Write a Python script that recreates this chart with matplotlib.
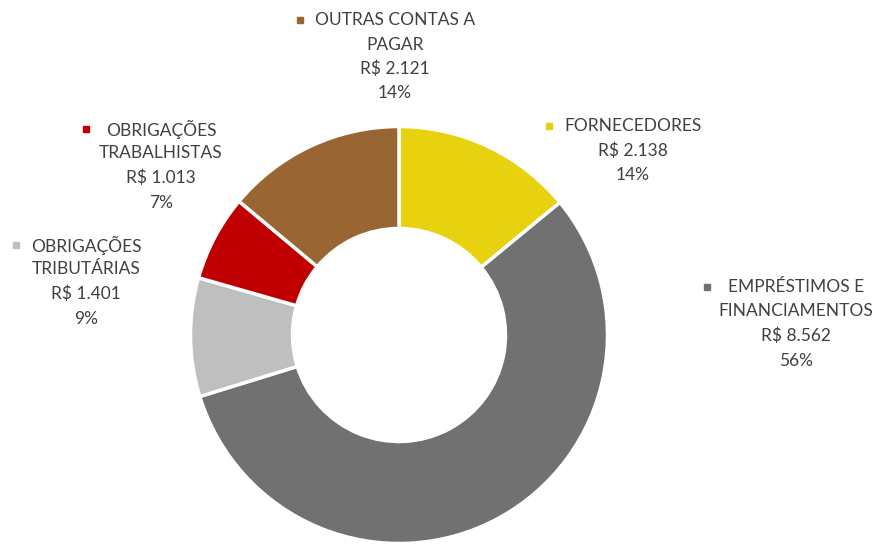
import matplotlib.pyplot as plt

# slices clockwise from 12 o'clock
names = [["FORNECEDORES"],
         ["EMPRÉSTIMOS E", "FINANCIAMENTOS"],
         ["OBRIGAÇÕES", "TRIBUTÁRIAS"],
         ["OBRIGAÇÕES", "TRABALHISTAS"],
         ["OUTRAS CONTAS A", "PAGAR"]]
values = [2138, 8562, 1401, 1013, 2121]
colors = ["#E8D10E", "#717171", "#BFBFBF", "#C00000", "#996633"]

# label layout in pixels: (text centre x, first line y, marker x)
label_pos = [(633, 126, 549), (796, 287, 707), (86, 245, 16),
             (161, 129, 86), (395, 20, 300)]

W, H = 876, 544
fig = plt.figure(figsize=(W / 100, H / 100), dpi=100)
ax = fig.add_axes([0, 0, 1, 1])

ax.pie(values, colors=colors, startangle=90, counterclock=False,
       center=(399, H - 335), radius=208.5, frame=True,
       wedgeprops=dict(width=102, edgecolor="white", linewidth=2.5))
ax.set_xlim(0, W)
ax.set_ylim(0, H)
ax.set_aspect("equal")
ax.axis("off")

total = sum(values)
txt = "#404040"
for nm, v, c, (cx, y0, mx) in zip(names, values, colors, label_pos):
    lines = nm + ["R$ " + f"{v:,}".replace(",", "."), f"{round(100 * v / total)}%"]
    for i, line in enumerate(lines):
        ax.text(cx, H - (y0 + i * 24.5), line, ha="center", va="center",
                fontsize=12.5, family="Lato", color=txt)
    ax.plot(mx, H - y0, marker="s", markersize=5, color=c, linestyle="none")

fig.savefig("out.png", dpi=100)
